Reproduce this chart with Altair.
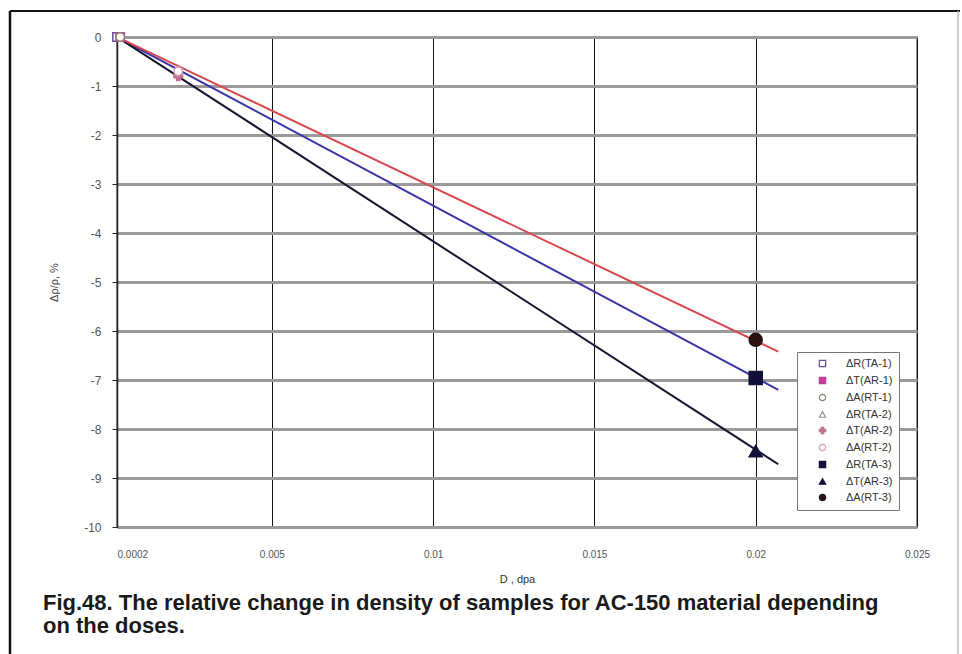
import altair as alt
import pandas as pd

# ---- data ----
series_names = ["ΔR(TA-1)", "ΔT(AR-1)", "ΔA(RT-1)",
                "ΔR(TA-2)", "ΔT(AR-2)", "ΔA(RT-2)",
                "ΔR(TA-3)", "ΔT(AR-3)", "ΔA(RT-3)"]
point_dose = [0.0002, 0.0003, 0.0003,
              0.0021, 0.0021, 0.0021,
              0.0200, 0.0200, 0.0200]
point_value = [0.0, 0.0, 0.0,
               -0.72, -0.80, -0.70,
               -6.96, -8.45, -6.18]

fit_names = ["ΔR", "ΔT", "ΔA"]
fit_dose_start = [0.0002, 0.0002, 0.0002]
fit_value_start = [0.0, 0.0, 0.0]
fit_dose_end = [0.0207, 0.0207, 0.0207]
fit_value_end = [-7.20, -8.72, -6.42]
fit_colors = ["#3a36a8", "#151530", "#d8484c"]

x_ticks = [0.0002, 0.005, 0.01, 0.015, 0.02, 0.025]
y_ticks = [0, -1, -2, -3, -4, -5, -6, -7, -8, -9, -10]

shapes = ["square", "square", "circle", "triangle-up", "cross", "circle",
          "square", "triangle-up", "circle"]
strokes = ["#6a4fa0", "#c0409a", "#8a8a70", "#909090", "#c07090", "#d8a0b8",
           "#10103a", "#10103a", "#2a1212"]
fills = ["white", "#c0409a", "white", "white", "#c07090", "white",
         "#10103a", "#10103a", "#2a1212"]
big = [False, False, False, False, False, False, True, True, True]

title_line_1 = "Fig.48. The relative change in density of samples for AC-150 material depending"
title_line_2 = "on the doses."

# ---- tables ----
pts = pd.DataFrame({"series": series_names, "dose": point_dose,
                    "value": point_value, "big": big})
rows = []
for n, x0, y0, x1, y1 in zip(fit_names, fit_dose_start, fit_value_start,
                             fit_dose_end, fit_value_end):
    rows.append({"fit": n, "dose": x0, "value": y0, "o": 0})
    rows.append({"fit": n, "dose": x1, "value": y1, "o": 1})
fits = pd.DataFrame(rows)

xscale = alt.Scale(domain=[0.0002, 0.025], nice=False, zero=False)
yscale = alt.Scale(domain=[-10, 0], nice=False)

xaxis = alt.Axis(values=x_ticks, title="D , dpa",
                 labelExpr="datum.value < 0.001 ? '0.0002' : format(datum.value, '~g')",
                 labelAlign={"condition": {"test": "datum.value < 0.001", "value": "left"},
                             "value": "center"},
                 grid=True, gridColor="#111111", gridWidth=1,
                 domain=False, ticks=False, labelPadding=22,
                 labelFontSize=10, labelColor="#555555", labelFont="Liberation Sans",
                 titleFontSize=11, titleColor="#333333", titleFont="Liberation Sans",
                 titleFontWeight="normal", titlePadding=14)
yaxis = alt.Axis(values=y_ticks, title="Δρ/ρ, %",
                 labelExpr="toString(datum.value)",
                 grid=True, gridColor="#9a9a9a", gridWidth=3,
                 domain=True, domainColor="#222222", domainWidth=1.5,
                 ticks=True, tickColor="#222222", tickSize=5,
                 labelFontSize=12, labelColor="#555555", labelFont="Liberation Sans",
                 labelPadding=11,
                 titleFontSize=11, titleColor="#444444", titleFont="Liberation Sans",
                 titleFontWeight="normal", titlePadding=24)

lines = alt.Chart(fits).mark_line(strokeWidth=2, clip=True).encode(
    x=alt.X("dose:Q", scale=xscale, axis=xaxis),
    y=alt.Y("value:Q", scale=yscale, axis=yaxis),
    color=alt.Color("fit:N", scale=alt.Scale(domain=fit_names, range=fit_colors), legend=None),
    order="o:O",
)

legend = alt.Legend(title=None, orient="none", legendX=680, legendY=315,
                    fillColor="white", strokeColor="#777777", padding=6,
                    symbolOffset=14, labelOffset=18, symbolSize=40, symbolStrokeWidth=1.2,
                    labelFontSize=11, labelFont="Liberation Sans", labelColor="#333333",
                    rowPadding=4)

enc = dict(
    x=alt.X("dose:Q", scale=xscale),
    y=alt.Y("value:Q", scale=yscale),
    shape=alt.Shape("series:N", scale=alt.Scale(domain=series_names, range=shapes), legend=legend),
    stroke=alt.Stroke("series:N", scale=alt.Scale(domain=series_names, range=strokes), legend=legend),
    fill=alt.Fill("series:N", scale=alt.Scale(domain=series_names, range=fills), legend=legend),
)

small_pts = alt.Chart(pts).transform_filter("!datum.big").mark_point(
    filled=True, size=70, strokeWidth=1.5, opacity=1).encode(**enc)
big_pts = alt.Chart(pts).transform_filter("datum.big").mark_point(
    filled=True, size=170, strokeWidth=1.5, opacity=1).encode(**enc)

one = pd.DataFrame({"a": [0]})
title_style = dict(align="left", baseline="middle", font="Liberation Sans", fontWeight="bold",
                   fontSize=22, color="#1a1a1a", clip=False)
title1 = alt.Chart(one).mark_text(text=title_line_1, **title_style).encode(
    x=alt.value(-74), y=alt.value(566))
title2 = alt.Chart(one).mark_text(text=title_line_2, **title_style).encode(
    x=alt.value(-74), y=alt.value(589))

# outer frame of the figure
frame_left = alt.Chart(one).mark_rule(color="#111111", strokeWidth=2.5, clip=False).encode(
    x=alt.value(-107), y=alt.value(-26), y2=alt.value(620))
frame_top = alt.Chart(one).mark_rule(color="#111111", strokeWidth=2, clip=False).encode(
    x=alt.value(-107), x2=alt.value(843), y=alt.value(-26))
frame_right = alt.Chart(one).mark_rule(color="#bbbbbb", strokeWidth=1.5, clip=False).encode(
    x=alt.value(841), y=alt.value(-26), y2=alt.value(620))

chart = alt.layer(lines, small_pts, big_pts, title1, title2,
                  frame_left, frame_top, frame_right).properties(
    width=800, height=490,
    autosize=alt.AutoSizeParams(type="none"),
    padding={"left": 117, "top": 37, "right": 45, "bottom": 127},
    background="white",
).configure_view(stroke="#9a9a9a", strokeWidth=2)

chart.save("out.html", embed_options={"renderer": "svg", "actions": False})
